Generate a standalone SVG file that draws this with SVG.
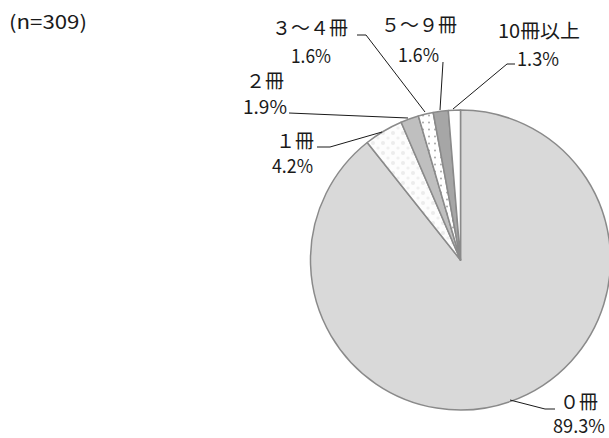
<svg xmlns="http://www.w3.org/2000/svg" width="609" height="438" viewBox="0 0 609 438">
<style>
.lbl{font-family:"Noto Sans CJK JP","Noto Sans",sans-serif;font-size:19px;fill:#1a1a1a}
.slice{stroke:#8a8a8a;stroke-width:1.5;stroke-linejoin:round}
.lead{fill:none;stroke:#1a1a1a;stroke-width:1}
</style>
<defs>
<pattern id="p1" width="10" height="10" patternUnits="userSpaceOnUse">
<rect width="10" height="10" fill="#fdfdfd"/>
<circle cx="3" cy="3" r="2" fill="#ececec"/>
<circle cx="8" cy="8" r="1.6" fill="#efefef"/>
</pattern>
<pattern id="p34" width="6" height="7" patternUnits="userSpaceOnUse">
<rect width="6" height="7" fill="#ffffff"/>
<circle cx="3" cy="3.5" r="1" fill="#a8a8a8"/>
</pattern>
</defs>
<text class="lbl" x="9" y="29" textLength="78" lengthAdjust="spacingAndGlyphs">(n=309)</text>
<g id="pie">
<g id="s0"><path class="slice" fill="#d9d9d9" d="M460.5,260 L460.5,110 A150,150 0 1,1 367.23,142.52 Z"/></g>
<g id="s1"><path class="slice" fill="url(#p1)" d="M460.5,260 L367.23,142.52 A150,150 0 0,1 401.16,122.24 Z"/></g>
<g id="s2"><path class="slice" fill="#bfbfbf" d="M460.5,260 L401.16,122.24 A150,150 0 0,1 418.38,116.03 Z"/></g>
<g id="s34"><path class="slice" fill="url(#p34)" d="M460.5,260 L418.38,116.03 A150,150 0 0,1 433.20,112.50 Z"/></g>
<g id="s59"><path class="slice" fill="#a6a6a6" d="M460.5,260 L433.20,112.50 A150,150 0 0,1 448.31,110.50 Z"/></g>
<g id="s10"><path class="slice" fill="#ffffff" d="M460.5,260 L448.31,110.50 A150,150 0 0,1 460.5,110 Z"/></g>
</g>
<g id="connectors">
<polyline class="lead" points="555,409 545,409 510,400"/>
<polyline class="lead" points="317,147 330,147 382,132"/>
<polyline class="lead" points="289,113 408,118"/>
<polyline class="lead" points="357,35 366,35 425,112"/>
<polyline class="lead" points="443,62 440,110"/>
<polyline class="lead" points="515,64 507,64 453,109"/>
</g>
<g id="label0"><text class="lbl" x="560" y="409">０冊</text><text class="lbl" x="553" y="433" textLength="52" lengthAdjust="spacingAndGlyphs">89.3%</text></g>
<g id="label1"><text class="lbl" x="276" y="148">１冊</text><text class="lbl" x="272" y="173" textLength="41" lengthAdjust="spacingAndGlyphs">4.2%</text></g>
<g id="label2"><text class="lbl" x="246" y="88">２冊</text><text class="lbl" x="243" y="114" textLength="44" lengthAdjust="spacingAndGlyphs">1.9%</text></g>
<g id="label34"><text class="lbl" x="272" y="35">３～４冊</text><text class="lbl" x="291" y="63" textLength="40" lengthAdjust="spacingAndGlyphs">1.6%</text></g>
<g id="label59"><text class="lbl" x="381" y="32">５～９冊</text><text class="lbl" x="398" y="62" textLength="41" lengthAdjust="spacingAndGlyphs">1.6%</text></g>
<g id="label10"><text class="lbl" x="498" y="38" textLength="82" lengthAdjust="spacingAndGlyphs">10冊以上</text><text class="lbl" x="517" y="66" textLength="42" lengthAdjust="spacingAndGlyphs">1.3%</text></g>
</svg>
